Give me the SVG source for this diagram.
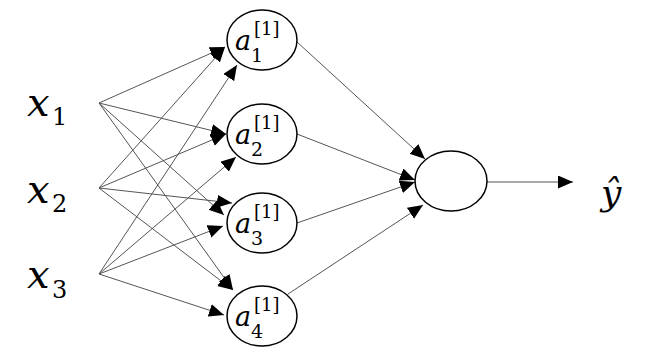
<svg xmlns="http://www.w3.org/2000/svg" width="656" height="364" viewBox="0 0 656 364">
<defs>
<marker id="arr" markerUnits="userSpaceOnUse" markerWidth="16" markerHeight="14" refX="15" refY="6.5" orient="auto">
<path d="M0,0 L15,6.5 L0,13 z" fill="#000"/>
</marker>
<style>
.e{stroke:#555;stroke-width:1;fill:none;marker-end:url(#arr)}
.n{fill:#fff;stroke:#000;stroke-width:1.5}
text{font-family:'DejaVu Serif','Liberation Serif',serif;fill:#000}
.it{font-style:italic}
</style>
</defs>
<rect width="656" height="364" fill="#fff"/>
<g id="connectors">
<line class="e" x1="99" y1="103" x2="225" y2="47"/>
<line class="e" x1="99" y1="188" x2="225" y2="47"/>
<line class="e" x1="99" y1="274" x2="237" y2="65"/>
<line class="e" x1="99" y1="103" x2="226" y2="134"/>
<line class="e" x1="99" y1="188" x2="226" y2="134"/>
<line class="e" x1="99" y1="274" x2="236" y2="157"/>
<line class="e" x1="99" y1="188" x2="232" y2="203"/>
<line class="e" x1="99" y1="103" x2="224" y2="215"/>
<line class="e" x1="99" y1="274" x2="223" y2="226"/>
<line class="e" x1="99" y1="103" x2="233" y2="290"/>
<line class="e" x1="99" y1="188" x2="233" y2="290"/>
<line class="e" x1="99" y1="274" x2="224" y2="315"/>
<line class="e" x1="297" y1="42" x2="425" y2="159"/>
<line class="e" x1="297" y1="134" x2="415" y2="180"/>
<line class="e" x1="297" y1="223" x2="415" y2="182"/>
<line class="e" x1="288" y1="294" x2="423" y2="205"/>
<line class="e" x1="487" y1="182" x2="573" y2="182"/>
</g>
<g id="x1"><text class="it" x="27" y="116" font-size="40">x</text><text x="52" y="125" font-size="24">1</text></g>
<g id="x2"><text class="it" x="27" y="203" font-size="40">x</text><text x="52" y="212" font-size="24">2</text></g>
<g id="x3"><text class="it" x="27" y="288" font-size="40">x</text><text x="52" y="298" font-size="24">3</text></g>
<g id="a1"><ellipse class="n" cx="262" cy="40" rx="35" ry="30"/><text class="it" x="235" y="50" font-size="27">a</text><text x="251" y="62" font-size="19">1</text><text x="254" y="35" font-size="18">[1]</text></g>
<g id="a2"><ellipse class="n" cx="262" cy="134" rx="35" ry="30"/><text class="it" x="235" y="144" font-size="27">a</text><text x="251" y="156" font-size="19">2</text><text x="254" y="129" font-size="18">[1]</text></g>
<g id="a3"><ellipse class="n" cx="262" cy="223" rx="35" ry="30"/><text class="it" x="235" y="233" font-size="27">a</text><text x="251" y="245" font-size="19">3</text><text x="254" y="218" font-size="18">[1]</text></g>
<g id="a4"><ellipse class="n" cx="262" cy="316" rx="35" ry="30"/><text class="it" x="235" y="326" font-size="27">a</text><text x="251" y="338" font-size="19">4</text><text x="254" y="311" font-size="18">[1]</text></g>
<g id="out"><ellipse class="n" cx="451" cy="181" rx="36" ry="30"/></g>
<g id="yhat"><text class="it" x="601" y="205" font-size="36">ŷ</text></g>
</svg>
